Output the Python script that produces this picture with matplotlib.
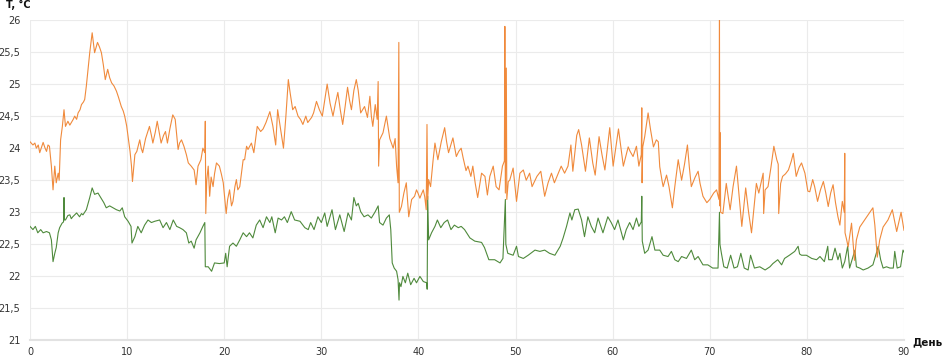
import matplotlib
matplotlib.use("Agg")
import matplotlib.pyplot as plt

# ---- data: series 1 (orange) ----
orange_day = [0.0, 0.3, 0.5, 0.65, 0.85, 1.0, 1.2, 1.35, 1.55, 1.7, 1.85, 2.0, 2.2, 2.37, 2.55, 2.7, 2.9, 3.0,
              3.15, 3.33, 3.5, 3.65, 3.9, 4.1, 4.25, 4.45, 4.6, 4.8, 4.95, 5.15, 5.3, 5.5, 5.63, 5.8, 6.15, 6.4,
              6.65, 6.95, 7.15, 7.35, 7.55, 7.75, 8.0, 8.2, 8.4, 8.65, 8.9, 9.1, 9.4, 9.6, 9.75, 9.95, 10.1, 10.3,
              10.45, 10.55, 10.8, 11.0, 11.3, 11.45, 11.6, 11.9, 12.3, 12.5, 12.65, 12.9, 13.1, 13.3, 13.5, 13.75,
              13.95, 14.15, 14.4, 14.7, 14.95, 15.25, 15.4, 15.6, 15.85, 16.1, 16.3, 16.6, 16.9, 17.1, 17.3, 17.6,
              17.8, 18.0, 18.05, 18.1, 18.2, 18.35, 18.5, 18.65, 18.85, 19.0, 19.2, 19.5, 19.7, 19.9, 20.2, 20.35,
              20.55, 20.75, 20.9, 21.1, 21.25, 21.4, 21.6, 21.95, 22.1, 22.3, 22.45, 22.8, 23.05, 23.4, 23.75, 24.0,
              24.3, 24.7, 25.0, 25.3, 25.5, 25.8, 26.1, 26.35, 26.6, 26.8, 27.05, 27.3, 27.6, 27.85, 28.1, 28.4,
              28.6, 29.0, 29.2, 29.5, 29.8, 30.1, 30.35, 30.6, 30.9, 31.2, 31.45, 31.7, 31.95, 32.2, 32.45, 32.7,
              32.9, 33.1, 33.35, 33.6, 33.8, 34.05, 34.45, 34.75, 35.0, 35.15, 35.3, 35.55, 35.75, 35.85, 35.9,
              36.0, 36.35, 36.7, 37.05, 37.4, 37.6, 37.75, 37.9, 37.98, 38.03, 38.25, 38.5, 38.75, 39.0, 39.3,
              39.6, 39.8, 39.95, 40.15, 40.3, 40.5, 40.65, 40.8, 40.88, 40.95, 41.05, 41.25, 41.5, 41.7, 42.0,
              42.35, 42.7, 42.9, 43.1, 43.55, 43.9, 44.15, 44.4, 44.6, 44.9, 45.1, 45.4, 45.6, 45.85, 46.1, 46.5,
              46.85, 47.1, 47.35, 47.7, 48.0, 48.3, 48.65, 48.85, 48.9, 48.95, 49.05, 49.1, 49.25, 49.4, 49.75,
              50.1, 50.45, 50.8, 51.1, 51.45, 51.7, 52.2, 52.6, 53.0, 53.35, 53.7, 54.0, 54.4, 54.7, 55.05, 55.4,
              55.7, 55.9, 56.3, 56.5, 56.8, 57.2, 57.6, 57.95, 58.2, 58.6, 58.9, 59.2, 59.7, 60.05, 60.6, 61.1,
              61.4, 61.6, 61.8, 62.1, 62.45, 62.7, 62.95, 63.0, 63.03, 63.1, 63.3, 63.65, 63.9, 64.2, 64.5, 64.7,
              64.85, 65.1, 65.2, 65.55, 65.8, 66.15, 66.4, 66.75, 67.1, 67.4, 67.7, 67.9, 68.1, 68.5, 68.8, 69.0,
              69.3, 69.7, 70.0, 70.4, 70.7, 70.95, 71.0, 71.03, 71.08, 71.12, 71.35, 71.7, 72.1, 72.4, 72.75, 73.0,
              73.3, 73.7, 74.0, 74.3, 74.8, 75.05, 75.5, 75.55, 75.7, 76.0, 76.3, 76.6, 76.9, 77.05, 77.1, 77.3,
              77.5, 77.8, 78.1, 78.4, 78.6, 78.9, 79.2, 79.45, 79.8, 80.1, 80.3, 80.6, 80.8, 81.1, 81.4, 81.7,
              81.95, 82.2, 82.45, 82.7, 82.95, 83.2, 83.4, 83.65, 83.85, 83.9, 83.93, 84.1, 84.25, 84.6, 84.9,
              85.1, 85.45, 85.95, 86.5, 86.8, 87.0, 87.25, 87.5, 87.85, 88.35, 88.8, 89.25, 89.7, 90.0]
orange_temp = [24.10, 24.05, 24.08, 24.00, 24.05, 23.93, 24.02, 24.09, 24.00, 23.95, 24.05, 24.03, 23.72, 23.35,
               23.72, 23.46, 23.61, 23.50, 24.13, 24.34, 24.60, 24.34, 24.42, 24.36, 24.40, 24.45, 24.50, 24.45,
               24.55, 24.60, 24.68, 24.72, 24.76, 24.97, 25.49, 25.80, 25.49, 25.65, 25.58, 25.49, 25.30, 25.07,
               25.23, 25.10, 25.02, 24.97, 24.89, 24.80, 24.65, 24.58, 24.50, 24.35, 24.18, 23.95, 23.72, 23.48,
               23.90, 23.95, 24.13, 24.00, 23.93, 24.15, 24.34, 24.20, 24.08, 24.25, 24.42, 24.25, 24.08, 24.20,
               24.26, 24.08, 24.30, 24.52, 24.45, 23.98, 24.08, 24.13, 24.03, 23.90, 23.77, 23.72, 23.66, 23.43,
               23.72, 23.82, 24.00, 23.93, 24.42, 22.98, 23.50, 23.72, 23.25, 23.55, 23.40, 23.60, 23.77, 23.72,
               23.60, 23.46, 22.98, 23.20, 23.35, 23.10, 23.17, 23.40, 23.51, 23.35, 23.40, 23.82, 23.82, 24.03,
               23.98, 24.08, 23.93, 24.34, 24.26, 24.30, 24.40, 24.57, 24.35, 24.05, 24.60, 24.30, 24.00, 24.50,
               25.07, 24.85, 24.60, 24.65, 24.50, 24.45, 24.37, 24.50, 24.40, 24.48, 24.55, 24.73, 24.60, 24.50,
               24.75, 25.00, 24.70, 24.50, 24.70, 24.87, 24.60, 24.37, 24.65, 24.95, 24.75, 24.60, 24.90, 25.07,
               24.90, 24.55, 24.65, 24.48, 24.81, 24.50, 24.34, 24.68, 24.45, 25.04, 23.72, 24.13, 24.24, 24.50,
               24.15, 24.00, 24.15, 23.72, 23.46, 25.65, 23.00, 23.09, 23.30, 23.46, 22.93, 23.20, 23.25, 23.35,
               23.30, 23.22, 23.28, 23.35, 23.24, 23.04, 24.37, 23.20, 23.51, 23.40, 23.80, 24.08, 23.82, 24.10,
               24.32, 24.10, 23.93, 24.16, 23.87, 23.95, 24.00, 23.85, 23.65, 23.72, 23.56, 23.72, 23.45, 23.23,
               23.61, 23.56, 23.27, 23.56, 23.72, 23.40, 23.35, 23.72, 23.80, 25.90, 23.30, 25.25, 23.20, 23.48,
               23.50, 23.69, 23.17, 23.61, 23.66, 23.50, 23.61, 23.40, 23.56, 23.64, 23.25, 23.46, 23.61, 23.46,
               23.61, 23.72, 23.61, 23.72, 24.05, 23.64, 24.20, 24.29, 24.05, 23.64, 24.16, 23.77, 23.58, 24.18,
               23.90, 23.66, 24.32, 23.72, 24.30, 23.72, 23.90, 24.02, 23.95, 23.87, 24.03, 23.72, 23.90, 24.63,
               23.46, 24.02, 24.18, 24.55, 24.29, 24.02, 24.13, 24.10, 23.71, 23.48, 23.40, 23.58, 23.40, 23.07,
               23.40, 23.82, 23.50, 23.75, 24.05, 23.70, 23.40, 23.55, 23.64, 23.45, 23.25, 23.15, 23.20, 23.30,
               23.35, 23.20, 26.00, 23.10, 24.24, 23.00, 22.98, 23.45, 23.04, 23.40, 23.72, 23.30, 22.78, 23.38,
               23.00, 22.68, 23.45, 23.30, 23.61, 22.98, 23.35, 23.40, 23.70, 24.03, 23.82, 23.75, 22.98, 23.45,
               23.56, 23.60, 23.66, 23.80, 23.92, 23.56, 23.70, 23.77, 23.61, 23.33, 23.32, 23.51, 23.40, 23.17,
               23.35, 23.48, 23.30, 23.09, 23.30, 23.43, 23.15, 22.93, 22.80, 23.17, 23.00, 23.92, 22.68, 22.57,
               22.46, 22.83, 22.25, 22.57, 22.77, 22.88, 23.00, 23.07, 22.80, 22.30, 22.57, 22.77, 22.88, 23.04,
               22.70, 23.00, 22.72]

# ---- data: series 2 (green) ----
green_day = [0.0, 0.3, 0.55, 0.8, 1.1, 1.35, 1.7, 2.0, 2.2, 2.37, 2.55, 2.7, 2.9, 3.05, 3.3, 3.45, 3.5, 3.55,
             3.65, 3.9, 4.1, 4.25, 4.4, 4.6, 4.8, 5.1, 5.3, 5.45, 5.8, 6.15, 6.4, 6.65, 7.0, 7.2, 7.4, 7.6, 7.85,
             8.2, 8.55, 8.9, 9.25, 9.5, 9.75, 10.1, 10.4, 10.5, 10.8, 11.1, 11.45, 11.8, 12.15, 12.5, 12.85,
             13.35, 13.7, 14.05, 14.4, 14.75, 15.1, 15.4, 15.75, 16.1, 16.35, 16.6, 16.9, 17.1, 17.5, 17.8, 18.0,
             18.05, 18.35, 18.7, 19.0, 19.5, 20.0, 20.15, 20.3, 20.55, 20.9, 21.25, 21.6, 21.95, 22.3, 22.6,
             22.95, 23.3, 23.65, 24.0, 24.35, 24.7, 24.9, 25.25, 25.55, 25.9, 26.2, 26.5, 26.9, 27.25, 27.8,
             28.3, 28.65, 28.9, 29.25, 29.65, 30.0, 30.35, 30.6, 31.1, 31.45, 31.9, 32.35, 32.75, 33.1, 33.35,
             33.6, 33.8, 34.05, 34.4, 34.8, 35.15, 35.55, 35.85, 36.0, 36.35, 36.7, 37.0, 37.15, 37.3, 37.5,
             37.75, 37.9, 38.0, 38.05, 38.2, 38.4, 38.65, 38.9, 39.2, 39.55, 39.8, 40.15, 40.5, 40.85, 40.9,
             40.95, 41.05, 41.35, 41.7, 41.95, 42.3, 42.65, 43.0, 43.35, 43.7, 44.1, 44.4, 44.75, 45.3, 45.8,
             46.5, 46.8, 47.25, 47.85, 48.4, 48.7, 48.95, 49.0, 49.2, 49.75, 50.1, 50.3, 50.8, 51.3, 52.0, 52.5,
             53.0, 53.5, 54.05, 54.6, 54.9, 55.25, 55.6, 55.8, 56.1, 56.45, 56.8, 57.1, 57.45, 57.8, 58.15,
             58.5, 59.0, 59.5, 59.85, 60.2, 60.55, 61.1, 61.4, 61.75, 62.1, 62.45, 62.7, 62.95, 63.0, 63.05,
             63.3, 63.65, 64.05, 64.35, 64.85, 65.2, 65.7, 66.05, 66.4, 66.75, 67.1, 67.6, 68.1, 68.45, 68.8,
             69.3, 69.8, 70.3, 70.85, 71.0, 71.05, 71.2, 71.45, 71.8, 72.15, 72.5, 72.85, 73.2, 73.55, 73.95,
             74.2, 74.6, 75.15, 75.7, 76.2, 76.5, 77.0, 77.4, 77.7, 78.2, 78.75, 79.1, 79.25, 79.45, 79.95, 80.5,
             81.0, 81.35, 81.8, 82.15, 82.25, 82.6, 82.9, 83.2, 83.4, 83.65, 83.9, 84.2, 84.4, 84.65, 84.95,
             85.1, 85.45, 85.8, 86.3, 86.8, 87.15, 87.35, 87.6, 87.85, 88.2, 88.55, 88.9, 89.05, 89.3, 89.65,
             89.9, 90.0]
green_temp = [22.78, 22.73, 22.78, 22.68, 22.73, 22.68, 22.70, 22.68, 22.57, 22.23, 22.36, 22.45, 22.68, 22.76,
              22.83, 22.85, 23.23, 22.88, 22.88, 22.95, 22.96, 22.90, 22.93, 22.96, 22.99, 22.93, 22.98, 22.96,
              23.04, 23.23, 23.38, 23.28, 23.30, 23.25, 23.20, 23.15, 23.07, 23.10, 23.07, 23.04, 23.02, 23.07,
              22.93, 22.86, 22.78, 22.52, 22.62, 22.78, 22.68, 22.80, 22.88, 22.84, 22.86, 22.88, 22.76, 22.84,
              22.73, 22.88, 22.78, 22.76, 22.73, 22.68, 22.52, 22.55, 22.44, 22.57, 22.68, 22.78, 22.84, 22.15,
              22.15, 22.08, 22.21, 22.20, 22.21, 22.36, 22.15, 22.47, 22.52, 22.47, 22.57, 22.68, 22.62, 22.68,
              22.60, 22.80, 22.88, 22.76, 22.93, 22.84, 22.93, 22.68, 22.91, 22.88, 22.93, 22.84, 23.01, 22.88,
              22.86, 22.76, 22.73, 22.84, 22.73, 22.93, 22.84, 22.99, 22.78, 23.04, 22.73, 22.96, 22.70, 22.99,
              22.88, 23.23, 23.10, 23.14, 23.01, 22.93, 22.96, 22.91, 23.01, 23.10, 22.84, 22.80, 22.91, 22.96,
              22.73, 22.21, 22.13, 22.08, 21.95, 21.63, 21.90, 21.84, 22.00, 21.90, 22.05, 21.87, 21.97, 21.90,
              22.00, 21.92, 21.90, 21.80, 23.25, 22.57, 22.68, 22.78, 22.88, 22.76, 22.84, 22.88, 22.73, 22.80,
              22.76, 22.78, 22.73, 22.60, 22.55, 22.53, 22.45, 22.26, 22.26, 22.21, 22.28, 23.20, 22.50, 22.36,
              22.33, 22.47, 22.31, 22.28, 22.33, 22.41, 22.39, 22.41, 22.36, 22.33, 22.47, 22.60, 22.78, 22.99,
              22.88, 23.04, 23.05, 22.88, 22.62, 22.93, 22.78, 22.68, 22.91, 22.68, 22.93, 22.84, 22.73, 22.88,
              22.57, 22.73, 22.84, 22.73, 22.91, 22.78, 22.85, 23.25, 22.55, 22.36, 22.41, 22.62, 22.41, 22.41,
              22.33, 22.31, 22.39, 22.26, 22.23, 22.31, 22.28, 22.41, 22.26, 22.31, 22.18, 22.18, 22.13, 22.13,
              23.00, 22.50, 22.36, 22.15, 22.13, 22.33, 22.13, 22.15, 22.36, 22.13, 22.10, 22.33, 22.13, 22.15,
              22.10, 22.15, 22.20, 22.26, 22.18, 22.28, 22.33, 22.39, 22.47, 22.35, 22.33, 22.33, 22.28, 22.26,
              22.31, 22.23, 22.47, 22.26, 22.26, 22.44, 22.26, 22.36, 22.13, 22.23, 22.47, 22.13, 22.26, 22.41,
              22.15, 22.13, 22.10, 22.13, 22.18, 22.36, 22.47, 22.26, 22.13, 22.15, 22.13, 22.13, 22.39, 22.13,
              22.15, 22.41, 22.38]

x_ticks = [0, 10, 20, 30, 40, 50, 60, 70, 80, 90]
y_ticks = [21, 21.5, 22, 22.5, 23, 23.5, 24, 24.5, 25, 25.5, 26]
y_tick_labels = ["21", "21,5", "22", "22,5", "23", "23,5", "24", "24,5", "25", "25,5", "26"]
y_title = "T, °C"
x_title = "День"

fig = plt.figure(figsize=(9.44, 3.58), dpi=100)
ax = fig.add_axes([0.0318, 0.0489, 0.9258, 0.8953])

ax.plot(green_day, green_temp, color="#4f8a3c", linewidth=0.8, zorder=3)
ax.plot(orange_day, orange_temp, color="#f08a3c", linewidth=0.8, zorder=4)

ax.set_xlim(0, 90)
ax.set_ylim(21, 26)
ax.set_xticks(x_ticks)
ax.set_yticks(y_ticks)
ax.set_yticklabels(y_tick_labels)
ax.tick_params(axis="both", length=0, labelsize=7, colors="#333333")
ax.tick_params(axis="y", pad=7)
ax.tick_params(axis="x", pad=5)

ax.grid(True, color="#ebebeb", linewidth=0.8, zorder=0)
ax.set_axisbelow(True)
for s in ["top", "right", "left"]:
    ax.spines[s].set_visible(False)
ax.spines["bottom"].set_color("#e2e2e2")
ax.spines["bottom"].set_linewidth(1.5)

fig.text(0.006, 0.985, y_title, fontsize=7, fontweight="bold", ha="left", va="center", color="#111111")
fig.text(0.999, 0.045, x_title, fontsize=7.5, fontweight="bold", ha="right", va="center", color="#111111")

fig.savefig("out.png", dpi=100)
